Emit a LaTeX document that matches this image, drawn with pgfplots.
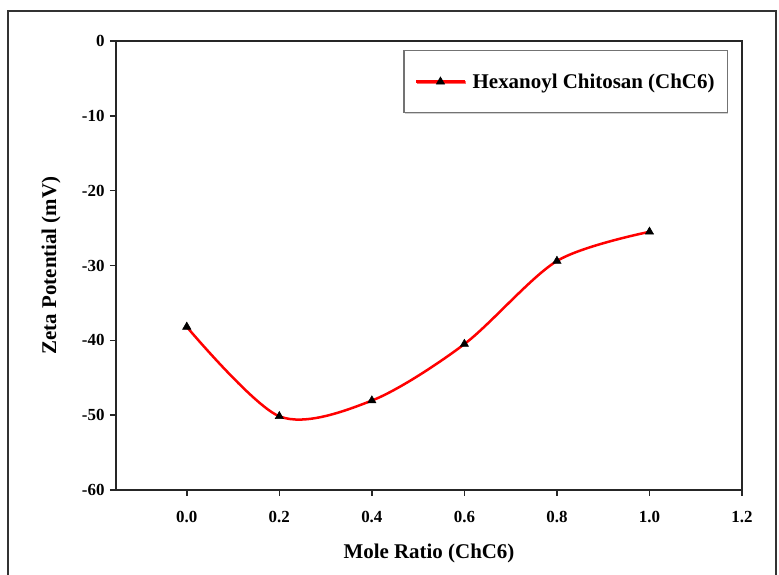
\documentclass[border=0pt]{standalone}
\usepackage{pgfplots}
\pgfplotsset{compat=1.18}
\usetikzlibrary{shadows}
\usepackage{fontspec}
\setmainfont{Liberation Serif}
\begin{document}
\begin{tikzpicture}[x=1bp,y=1bp]
\useasboundingbox (-116,-85) rectangle (663,490);
\draw[line width=1.5bp, black!80] (-108,-95) -- (-108,479) -- (660,479) -- (660,-95);
\begin{axis}[
  at={(0,0)}, anchor=south west, scale only axis,
  width=626bp, height=449bp,
  xmin=-0.153, xmax=1.2, ymin=-60, ymax=0,
  xtick={0,0.2,0.4,0.6,0.8,1.0,1.2},
  xticklabels={0.0,0.2,0.4,0.6,0.8,1.0,1.2},
  ytick={-60,-50,-40,-30,-20,-10,0},
  yticklabels={-60,-50,-40,-30,-20,-10,0},
  xtick pos=lower, ytick pos=left, tick align=outside,
  major tick length=6bp,
  tick style={line width=1.5bp, black!85},
  axis line style={line width=2bp, black!85},
  ticklabel style={font=\fontsize{17}{20}\selectfont\bfseries},
  xticklabel style={yshift=-12bp},
  yticklabel style={xshift=-2bp},
  xlabel={Mole Ratio (ChC6)},
  ylabel={Zeta Potential (mV)},
  label style={font=\fontsize{21}{25}\selectfont\bfseries},
  xlabel style={at={(axis description cs:0.5,0)}, anchor=center, yshift=-63bp},
  ylabel style={at={(axis description cs:0,0.5)}, anchor=center, rotate=0, yshift=65bp},
  legend style={at={(0.978,0.98)}, anchor=north east, draw=black!55, line width=1.5bp,
    font=\fontsize{21}{25}\selectfont\bfseries, inner xsep=11bp, inner ysep=6bp,
    column sep=5bp, minimum height=50bp,
    drop shadow={shadow xshift=1bp, shadow yshift=-1bp, fill=black!30, opacity=0.6}},
  legend cell align=left,
  legend image code/.code={
    \draw[#1, mark repeat=2, mark phase=2] plot coordinates {(0bp,0bp) (24bp,0bp) (48bp,0bp)};
  },
]
\addplot[red, line width=2.5bp, smooth, mark=triangle*, mark size=4.8bp,
  mark options={black, fill=black, line width=0.5bp}]
  coordinates {(0,-38.2) (0.2,-50.15) (0.4,-48.05) (0.6,-40.5) (0.8,-29.4) (1.0,-25.5)};
\addlegendentry{Hexanoyl Chitosan (ChC6)}
\end{axis}
\end{tikzpicture}
\end{document}
